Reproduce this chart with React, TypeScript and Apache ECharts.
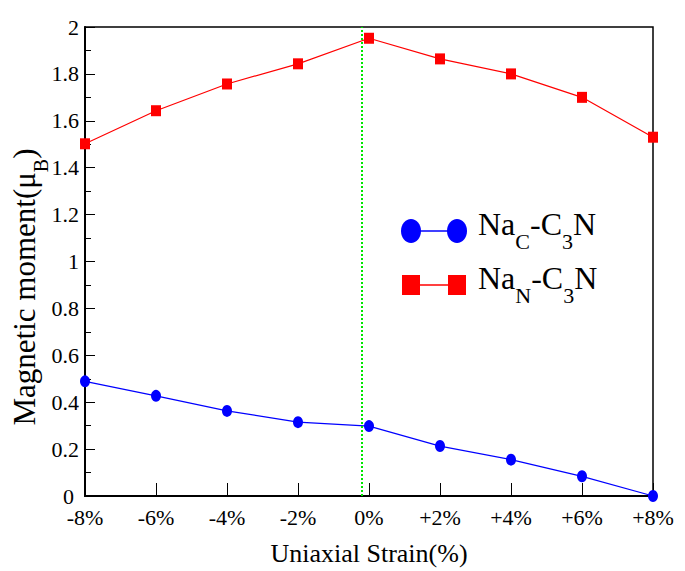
import React, { useEffect, useRef } from "react";
import * as echarts from "echarts";

const strains = [-8, -6, -4, -2, 0, 2, 4, 6, 8];
const naC = [0.489, 0.427, 0.363, 0.315, 0.298, 0.213, 0.155, 0.084, 0.0];
const naN = [1.502, 1.643, 1.757, 1.843, 1.952, 1.864, 1.80, 1.70, 1.53];
const greenLineX = -0.2;
const xTitle = "Uniaxial Strain(%)";
const yTitle = "{m|Magnetic moment(μ}{s|B}{m|)}";
const legendNames = ["{m|Na}{s|C}{m|-C}{s|3}{m|N}", "{m|Na}{s|N}{m|-C}{s|3}{m|N}"];
const FONT = "Liberation Serif";

export default function App() {
  const ref = useRef<HTMLDivElement>(null);
  useEffect(() => {
    const chart = echarts.init(ref.current!, null, { renderer: "svg" });
    const pts = (arr: number[]) => strains.map((s, i) => [s, arr[i]]);
    const legendRich = {
      m: { fontFamily: FONT, fontSize: 32, color: "#000", verticalAlign: "top", lineHeight: 32 },
      s: { fontFamily: FONT, fontSize: 22, color: "#000", verticalAlign: "top", padding: [22, 0, 0, 0] },
    };
    chart.setOption({
      animation: false,
      backgroundColor: "#fff",
      textStyle: { fontFamily: FONT },
      grid: {
        left: 85, right: 32, top: 27, bottom: 74,
        show: true, borderColor: "#000", borderWidth: 1.5,
      },
      xAxis: {
        type: "value", min: -8, max: 8, interval: 2,
        name: xTitle, nameLocation: "middle", nameGap: 44,
        nameTextStyle: { fontFamily: FONT, fontSize: 26, color: "#000" },
        axisLine: { show: true, onZero: false, lineStyle: { color: "#000", width: 2 } },
        axisTick: { show: true, inside: true, length: 13, lineStyle: { color: "#000", width: 1 } },
        axisLabel: {
          margin: 13, fontFamily: FONT, fontSize: 22, lineHeight: 16, color: "#000",
          formatter: (v: number) => (v > 0 ? "+" + v + "%" : v + "%"),
        },
        splitLine: { show: false },
      },
      yAxis: {
        type: "value", min: 0, max: 2, interval: 0.2,
        axisLine: { show: true, onZero: false, lineStyle: { color: "#000", width: 2 } },
        axisTick: { show: true, inside: true, length: 10, lineStyle: { color: "#000", width: 1 } },
        minorTick: { show: true, splitNumber: 2, length: 6, lineStyle: { color: "#000", width: 1 } },
        axisLabel: {
          margin: 6, fontFamily: FONT, fontSize: 22, lineHeight: 16, color: "#000",
          formatter: (v: number) => (v === 0 ? "{z|0}" : String(v)),
          rich: { z: { fontFamily: FONT, fontSize: 22, lineHeight: 16, color: "#000", padding: [0, 5, 0, 0] } },
        },
        splitLine: { show: false },
        minorSplitLine: { show: false },
      },
      series: [
        {
          type: "line", data: pts(naN), symbol: "rect", symbolSize: [10, 11],
          itemStyle: { color: "#ff0000" }, lineStyle: { color: "#ff0000", width: 1.2 },
          markLine: {
            silent: true, symbol: ["none", "none"], label: { show: false },
            lineStyle: { color: "#00e600", type: [2, 2], width: 2 },
            data: [{ xAxis: greenLineX }],
          },
          clip: false, z: 3,
        },
        {
          type: "line", data: pts(naC), symbol: "circle", symbolSize: [10, 12],
          itemStyle: { color: "#0000ff" }, lineStyle: { color: "#0000ff", width: 1.2 },
          clip: false, z: 3,
        },
      ],
      graphic: [
        {
          type: "text", x: 29.5, y: 287, rotation: Math.PI / 2,
          style: {
            text: yTitle, align: "center", verticalAlign: "middle",
            rich: {
              m: { fontFamily: FONT, fontSize: 31, color: "#000", verticalAlign: "top", lineHeight: 31 },
              s: { fontFamily: FONT, fontSize: 20, color: "#000", verticalAlign: "top", padding: [22, 0, 0, 0] },
            },
          },
        },
        { type: "line", shape: { x1: 411, y1: 231, x2: 457, y2: 231 }, style: { stroke: "#0000ff", lineWidth: 1.5 } },
        { type: "ellipse", shape: { cx: 411, cy: 231, rx: 10, ry: 12 }, style: { fill: "#0000ff" } },
        { type: "ellipse", shape: { cx: 457, cy: 231, rx: 10, ry: 12 }, style: { fill: "#0000ff" } },
        { type: "line", shape: { x1: 411, y1: 285, x2: 457, y2: 285 }, style: { stroke: "#ff0000", lineWidth: 1.5 } },
        { type: "rect", shape: { x: 402, y: 275, width: 18, height: 20 }, style: { fill: "#ff0000" } },
        { type: "rect", shape: { x: 448, y: 275, width: 18, height: 20 }, style: { fill: "#ff0000" } },
        {
          type: "text", x: 478, y: 208,
          style: { text: legendNames[0], rich: legendRich, align: "left", verticalAlign: "top" },
        },
        {
          type: "text", x: 478, y: 262,
          style: { text: legendNames[1], rich: legendRich, align: "left", verticalAlign: "top" },
        },
      ],
    });
    return () => chart.dispose();
  }, []);
  return (
    <div
      ref={ref}
      style={{ position: "fixed", left: 0, top: 0, width: 685, height: 571, background: "#fff" }}
    />
  );
}
